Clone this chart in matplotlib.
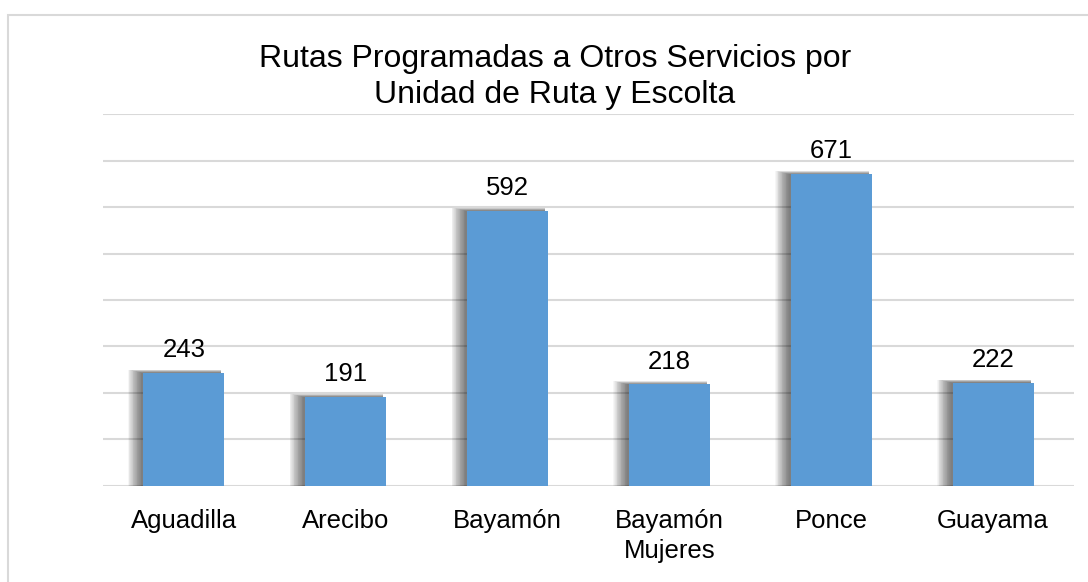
import matplotlib
matplotlib.use("Agg")
import matplotlib.pyplot as plt
from matplotlib.patches import Rectangle

plt.rcParams['font.family'] = ['Liberation Sans', 'DejaVu Sans']

categories = ['Aguadilla', 'Arecibo', 'Bayamón', 'Bayamón\nMujeres', 'Ponce', 'Guayama']
values = [243, 191, 592, 218, 671, 222]

W, H = 1088, 582
fig = plt.figure(figsize=(W / 100, H / 100), dpi=100)
ax = fig.add_axes([103 / W, 1 - 485.7 / H, 971 / W, 371.4 / H])

bar_color = '#5b9bd5'
grid_color = '#d9d9d9'
bar_w = 0.5

ax.set_xlim(-0.5, len(categories) - 0.5)
ax.set_ylim(0, 800)

# size of one pixel in data units
px_x = 6 / 971
px_y = 800 / 371.4

xs = range(len(categories))

# soft drop shadow to the left of each bar (stacked translucent layers)
for x, v in zip(xs, values):
    for k in range(18):
        left = x - bar_w / 2 - (2 + 0.8 * k) * px_x
        right = x + bar_w / 2 - 3 * px_x
        top = v + min(0.2 * k, 3) * px_y
        ax.add_patch(Rectangle((left, 0), right - left, top, color='black',
                               alpha=0.034, lw=0, zorder=2))

ax.bar(xs, values, width=bar_w, color=bar_color, zorder=3)

for x, v in zip(xs, values):
    ax.annotate(str(v), (x, v), xytext=(0, 11.5), textcoords='offset points',
                ha='center', va='baseline', fontsize=18.5, color='black')

ax.set_yticks(range(0, 801, 100))
ax.yaxis.grid(True, color=grid_color, lw=1.5, zorder=0)
ax.set_axisbelow(True)
ax.tick_params(axis='y', length=0, labelleft=False)
ax.set_xticks(list(xs))
ax.set_xticklabels(categories, fontsize=18.5, linespacing=1.3)
ax.tick_params(axis='x', length=0, pad=17)
for s in ax.spines.values():
    s.set_visible(False)

fig.text(555 / W, 1 - 77 / H, 'Rutas Programadas a Otros Servicios por\nUnidad de Ruta y Escolta',
         ha='center', va='center', fontsize=23, linespacing=1.3)

# outer chart border
fig.patches.append(Rectangle((8 / W, -0.1), 1.2, (H - 15) / H + 0.1, transform=fig.transFigure,
                             fill=False, ec=grid_color, lw=1.5))

fig.savefig('out.png', dpi=100)
